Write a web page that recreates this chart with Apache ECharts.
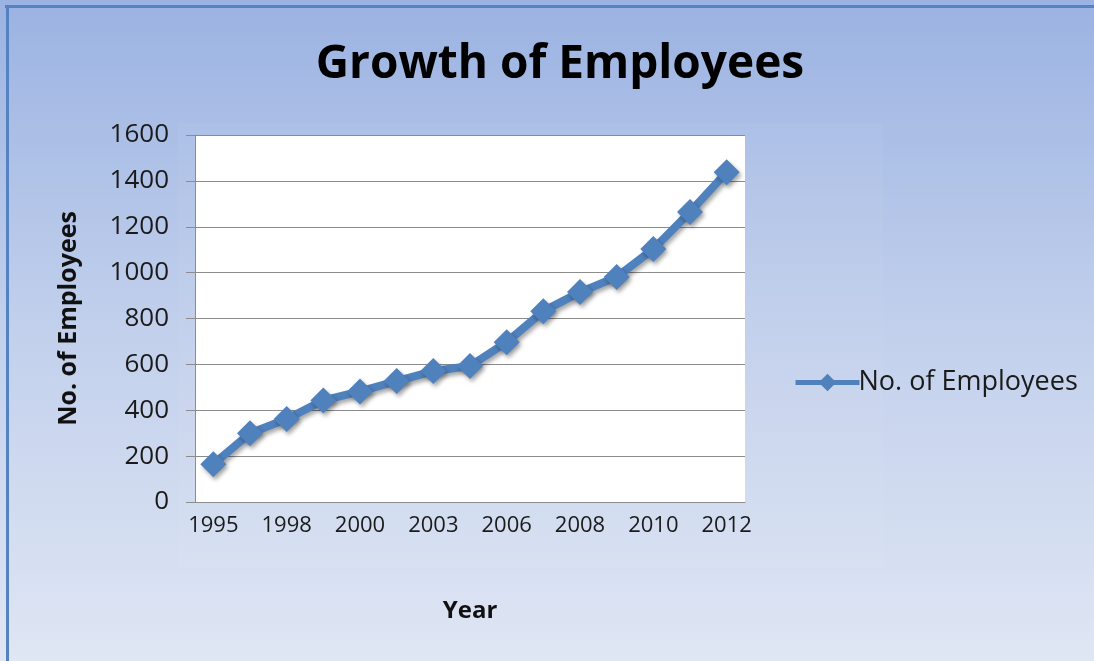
<!DOCTYPE html>
<html>
<head>
<meta charset="utf-8">
<title>Growth of Employees</title>
<script src="https://cdn.jsdelivr.net/npm/echarts@6/dist/echarts.min.js"></script>
<style>
  html, body { margin: 0; padding: 0; }
  #chart { width: 1094px; height: 661px; }
</style>
</head>
<body>
<div id="chart"></div>
<script>
// years on the category axis (every other one is labelled)
const years = ['1995', '1997', '1998', '1999', '2000', '2001', '2003', '2005',
  '2006', '2007', '2008', '2009', '2010', '2011', '2012']
// employees per year
const employees = [165, 300, 362, 443, 482, 527, 571, 593, 697, 832, 915, 981, 1103, 1264, 1438]
const seriesName = 'No. of Employees'

const blue = '#4f81bd'
const font = 'Open Sans'
const chart = echarts.init(document.getElementById('chart'))

const option = {
  backgroundColor: {
    type: 'linear', x: 0, y: 0, x2: 0, y2: 1,
    colorStops: [
      { offset: 0, color: '#9bb3e2' },
      { offset: 0.5, color: '#c2d0ec' },
      { offset: 1, color: '#dfe6f4' }
    ]
  },
  graphic: [
    // faint inner panel
    { type: 'rect', shape: { x: 178, y: 122, width: 705, height: 445 },
      style: { fill: 'rgba(255,255,255,0.04)' }, z: -1 },
    // frame lines on top and left
    { type: 'rect', shape: { x: 5, y: 5, width: 1089, height: 3 }, style: { fill: '#5582c0' } },
    { type: 'rect', shape: { x: 6, y: 5, width: 3, height: 656 }, style: { fill: '#5582c0' } }
  ],
  title: {
    text: 'Growth of Employees',
    left: 555,
    top: 37,
    textAlign: 'center',
    textStyle: { fontFamily: font, fontWeight: 'bold', fontSize: 46, color: '#000' }
  },
  legend: {
    left: 788,
    top: 364,
    itemWidth: 64,
    itemHeight: 22,
    itemGap: 0,
    lineStyle: { width: 5 },
    textStyle: { fontFamily: font, fontSize: 27, color: '#1a1a1a', padding: [0, 0, 0, -6] },
    data: [seriesName]
  },
  grid: {
    left: 195,
    right: 349,
    top: 135,
    bottom: 159,
    show: true,
    backgroundColor: '#fff',
    borderWidth: 0
  },
  xAxis: {
    type: 'category',
    data: years,
    boundaryGap: true,
    name: 'Year',
    nameLocation: 'middle',
    nameGap: 97,
    nameTextStyle: { fontFamily: font, fontWeight: 'bold', fontSize: 24, color: '#111' },
    axisLine: { lineStyle: { color: '#8c8c8c', width: 1 } },
    axisTick: { show: false },
    axisLabel: { interval: 1, fontFamily: font, fontSize: 22, color: '#1a1a1a', margin: 13 }
  },
  yAxis: {
    type: 'value',
    min: 0,
    max: 1600,
    interval: 200,
    name: seriesName,
    nameLocation: 'middle',
    nameGap: 114,
    nameTextStyle: { fontFamily: font, fontWeight: 'bold', fontSize: 25, color: '#111' },
    axisLine: { show: true, lineStyle: { color: '#8c8c8c', width: 1 } },
    axisTick: { show: true, length: 9, lineStyle: { color: '#8c8c8c' } },
    axisLabel: { fontFamily: font, fontSize: 26, color: '#1a1a1a', margin: 26, formatter: v => String(v) },
    splitLine: { lineStyle: { color: '#8c8c8c', width: 1 } }
  },
  series: [{
    name: seriesName,
    type: 'line',
    data: employees,
    symbol: 'diamond',
    symbolSize: 26,
    showAllSymbol: true,
    itemStyle: { color: blue, shadowBlur: 4, shadowColor: 'rgba(0,0,0,0.35)', shadowOffsetX: 2, shadowOffsetY: 3 },
    lineStyle: { color: blue, width: 8, shadowBlur: 4, shadowColor: 'rgba(0,0,0,0.35)', shadowOffsetX: 2, shadowOffsetY: 3 },
    animation: false
  }]
}

chart.setOption(option)
</script>
</body>
</html>
